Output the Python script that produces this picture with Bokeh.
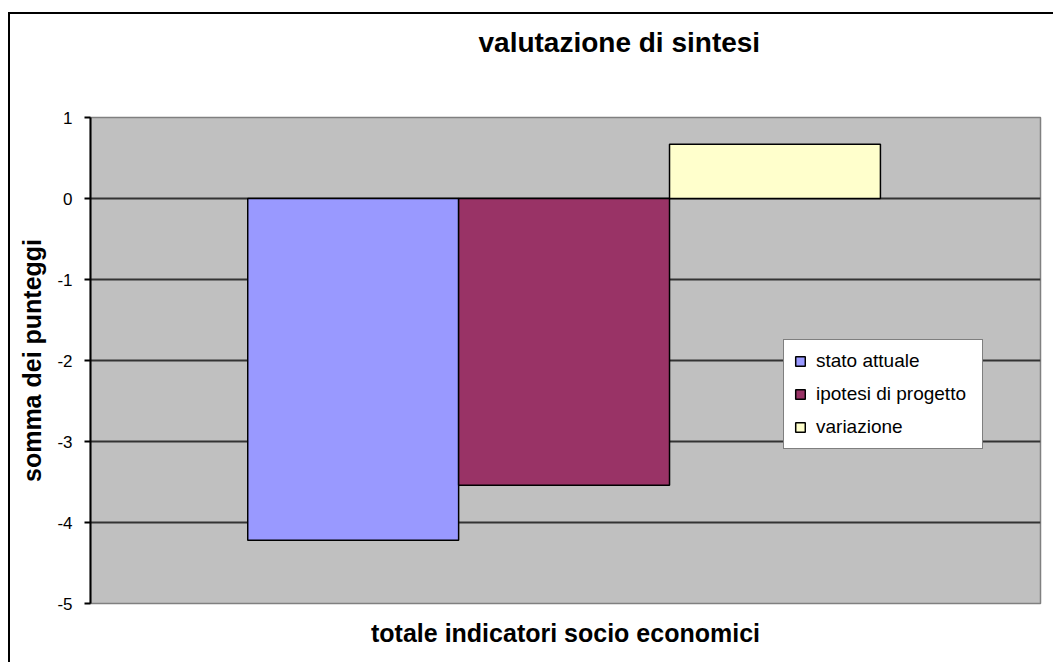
from bokeh.plotting import figure
from bokeh.models import Range1d, FixedTicker, ColumnDataSource, Title, InlineStyleSheet
from bokeh.embed import file_html
from bokeh.resources import INLINE

# ---- data ----
series = ["stato attuale", "ipotesi di progetto", "variazione"]
values = [-4.22, -3.54, 0.67]
y_ticks = [-5, -4, -3, -2, -1, 0, 1]
grid_ticks = [-4, -3, -2, -1, 0]
title_text = "valutazione di sintesi"
x_title = "totale indicatori socio economici"
y_title = "somma dei punteggi"

# ---- style ----
colors = ["#9999FF", "#993366", "#FFFFCC"]
group_center = 0.4985
bar_w = 0.222
FONT = "Liberation Sans"

xs = [group_center + (i - 1) * bar_w for i in range(len(series))]
src = ColumnDataSource(dict(x=xs, top=values, series=series, color=colors))

p = figure(width=1053, height=662, output_backend="svg", toolbar_location=None,
           title=None,
           x_range=Range1d(0, 1), y_range=Range1d(-5, 1),
           min_border_left=90, min_border_right=13, min_border_top=117, min_border_bottom=59)

p.background_fill_color = "#C0C0C0"
p.border_fill_color = "white"
p.outline_line_color = "#808080"
p.outline_line_width = 1.5

p.vbar(x="x", top="top", bottom=0, width=bar_w, source=src,
       fill_color="color", line_color="black", line_width=1.5,
       legend_field="series")

# chart title: a blank spacer panel next to the plot area, then the title above it
spacer = Title(text=" ", text_font=FONT, text_font_size="52px", standoff=0)
main_title = Title(text=title_text, align="left", offset=388, standoff=0,
                   text_font=FONT, text_font_size="28px", text_font_style="bold",
                   text_color="black")
p.add_layout(spacer, "above")
p.add_layout(main_title, "above")

# y axis
ya = p.yaxis[0]
ya.ticker = FixedTicker(ticks=y_ticks)
ya.major_label_overrides = {t: str(t) for t in y_ticks}
ya.axis_line_color = "black"
ya.axis_line_width = 2
ya.major_tick_line_color = "black"
ya.major_tick_line_width = 2
ya.major_tick_out = 6
ya.major_tick_in = 0
ya.minor_tick_line_color = None
ya.major_label_standoff = 12
ya.major_label_text_font = FONT
ya.major_label_text_font_size = "17px"
ya.major_label_text_color = "black"
ya.axis_label = y_title
ya.axis_label_text_font = FONT
ya.axis_label_text_font_size = "25px"
ya.axis_label_text_font_style = "bold"
ya.axis_label_text_color = "black"
ya.axis_label_standoff = 8

# x axis
xa = p.xaxis[0]
xa.ticker = FixedTicker(ticks=[])
xa.axis_line_color = None
xa.major_tick_line_color = None
xa.minor_tick_line_color = None
xa.major_tick_out = 0
xa.major_tick_in = 0
xa.major_label_standoff = 0
xa.axis_label = x_title
xa.axis_label_text_font = FONT
xa.axis_label_text_font_size = "25px"
xa.axis_label_text_font_style = "bold"
xa.axis_label_text_color = "black"
xa.axis_label_standoff = 15

# grid
p.xgrid.visible = False
p.ygrid.ticker = FixedTicker(ticks=grid_ticks)
p.ygrid.grid_line_color = "#333333"
p.ygrid.grid_line_width = 2

# legend
leg = p.legend[0]
leg.location = (693, 154)
leg.margin = 0
leg.padding = 10
leg.spacing = 11
leg.label_height = 22
leg.label_width = 156
leg.glyph_width = 12
leg.glyph_height = 12
leg.label_standoff = 10
leg.border_line_color = "black"
leg.border_line_width = 1.5
leg.background_fill_color = "white"
leg.background_fill_alpha = 1
leg.label_text_font = FONT
leg.label_text_font_size = "19px"
leg.label_text_color = "black"

# outer chart frame (left and top edges visible in the picture)
p.stylesheets = [InlineStyleSheet(css="""
:host { position: relative; overflow: hidden; }
:host::after { content: ""; position: absolute; left: 8px; top: 12px; right: 0; bottom: 0;
  border-left: 2px solid black; border-top: 2px solid black; pointer-events: none; }
""")]

open("out.html", "w").write(file_html(p, INLINE))
